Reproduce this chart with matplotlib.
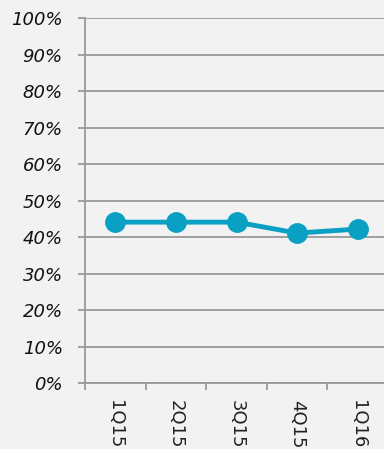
import matplotlib
matplotlib.use('Agg')
import matplotlib.pyplot as plt

##data
quarters = ['1Q15', '2Q15', '3Q15', '4Q15', '1Q16']
values = [44.1, 44.1, 44.1, 41.1, 42.2]
yticks = list(range(0, 101, 10))

plt.rcParams['font.family'] = ['DejaVu Sans']

fig = plt.figure(figsize=(3.84, 4.49), dpi=100, facecolor='#f2f2f2')
ax = fig.add_axes([0.2214, 0.147, 0.789, 0.814])
ax.set_facecolor('#f2f2f2')

x = list(range(len(quarters)))
ax.plot(x, values, color='#0aa0c4', lw=3.5, marker='o', ms=14, zorder=3, clip_on=False)

ax.set_xlim(-0.5, len(quarters) - 0.5)
ax.set_ylim(0, 100.2)

## grid + ticks
ax.set_yticks(yticks)
ax.set_yticklabels([str(v) + '%' for v in yticks], fontsize=13, style='italic', color='#111111')
ax.yaxis.grid(True, color='#999999', lw=1.3)
ax.set_axisbelow(True)

ax.set_xticks([i - 0.5 for i in range(len(quarters) + 1)])
ax.set_xticklabels([])
ax.set_xticks(x, minor=True)
ax.set_xticklabels(quarters, minor=True, rotation=-90, fontsize=13, color='#222222', va='top', ha='center')
ax.tick_params(axis='x', which='minor', length=0, pad=12)
ax.tick_params(axis='x', which='major', length=5, color='#999999', width=1.3, direction='out')
ax.tick_params(axis='y', length=5, color='#999999', width=1.3, pad=11)

for s in ['top', 'right']:
    ax.spines[s].set_visible(False)
for s in ['left', 'bottom']:
    ax.spines[s].set_color('#999999')
    ax.spines[s].set_linewidth(1.3)

fig.savefig('out.png', dpi=100, facecolor='#f2f2f2')
